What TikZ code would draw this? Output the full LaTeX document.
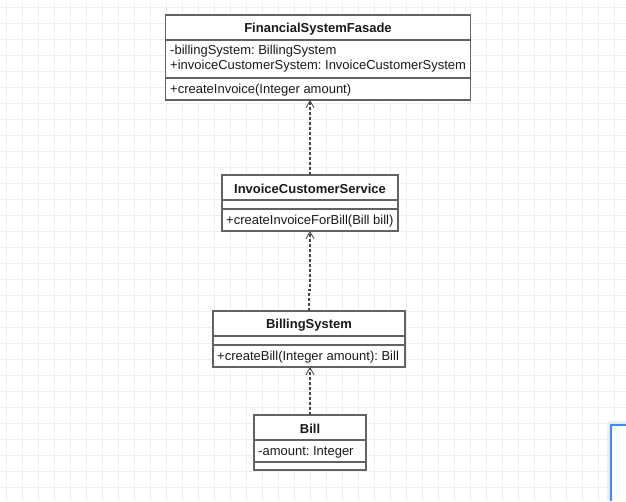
\documentclass[tikz,border=0pt]{standalone}
\usepackage{fontspec}
\setmainfont{Liberation Sans}
\usetikzlibrary{arrows.meta}
\frenchspacing
\definecolor{gridc}{HTML}{EFEFEF}
\definecolor{boxline}{HTML}{626262}
\definecolor{txt}{HTML}{1A1A1A}
\definecolor{selblue}{HTML}{3D8BFF}
\tikzset{
  gridline/.style={draw=gridc, line width=1pt},
  umlbox/.style={draw=boxline, line width=1.1pt, fill=white, inner sep=0pt, outer sep=0pt, anchor=north west},
  divider/.style={draw=boxline, line width=1.1pt},
  title/.style={font=\fontsize{13}{15}\selectfont\bfseries, text=txt, inner sep=0pt},
  member/.style={font=\fontsize{13}{15}\selectfont, text=txt, inner sep=0pt, anchor=west, align=left},
  depend/.style={draw=boxline!70!black, line width=1.1pt, dash pattern=on 3pt off 2pt, -{Straight Barb[length=7pt,width=8pt,line width=0.8pt]}},
}
\begin{document}
\begin{tikzpicture}[x=1pt,y=-1pt]
\useasboundingbox (0,0) rectangle (626,501);
\fill[white] (0,0) rectangle (626,501);
% grid
\foreach \gx in {6,22,...,622} {\draw[gridline] (\gx,0) -- (\gx,501);}
\foreach \gy in {7,23,...,500} {\draw[gridline] (0,\gy) -- (626,\gy);}

% FinancialSystemFasade
\node[umlbox, minimum width=305pt, minimum height=85pt] (fsf) at (165.5,15) {};
\draw[divider] (165.5,40) -- (470.5,40);
\draw[divider] (165.5,78) -- (470.5,78);
\node[title] (fsft) at (318,29) {FinancialSystemFasade};
\node[member] (fsfa) at (170,59) {-billingSystem: BillingSystem\\+invoiceCustomerSystem: InvoiceCustomerSystem};
\node[member] (fsfm) at (170,90) {+createInvoice(Integer amount)};

% InvoiceCustomerService
\node[umlbox, minimum width=176pt, minimum height=56pt] (ics) at (222,175) {};
\draw[divider] (222,200) -- (398,200);
\draw[divider] (222,209) -- (398,209);
\node[title] (icst) at (310,189) {InvoiceCustomerService};
\node[member] (icsm) at (226,221) {+createInvoiceForBill(Bill bill)};

% BillingSystem
\node[umlbox, minimum width=192pt, minimum height=56pt] (bs) at (213,311) {};
\draw[divider] (213,336) -- (405,336);
\draw[divider] (213,345) -- (405,345);
\node[title] (bst) at (309,325) {BillingSystem};
\node[member] (bsm) at (217,357) {+createBill(Integer amount): Bill};

% Bill
\node[umlbox, minimum width=112pt, minimum height=55pt] (bill) at (254,415) {};
\draw[divider] (254,440) -- (366,440);
\draw[divider] (254,462) -- (366,462);
\node[title] (billt) at (310,429) {Bill};
\node[member] (billa) at (258,452) {-amount: Integer};

% dependencies
\draw[depend] (ics.north) -- (ics.north |- fsf.south);
\draw[depend] (bs.north) -- ++(0,-21) -- ++(1,0) -- (ics.south);
\draw[depend] (bill.north) -- (bill.north |- bs.south);

% partial selected shape at lower right
\fill[black!6] (607,421) rectangle (626,501);
\fill[black!10] (609,423) rectangle (626,501);
\fill[white] (611,425) rectangle (626,501);
\draw[selblue, line width=1.2pt] (611,501) -- (611,425) -- (626,425);
\end{tikzpicture}
\end{document}
